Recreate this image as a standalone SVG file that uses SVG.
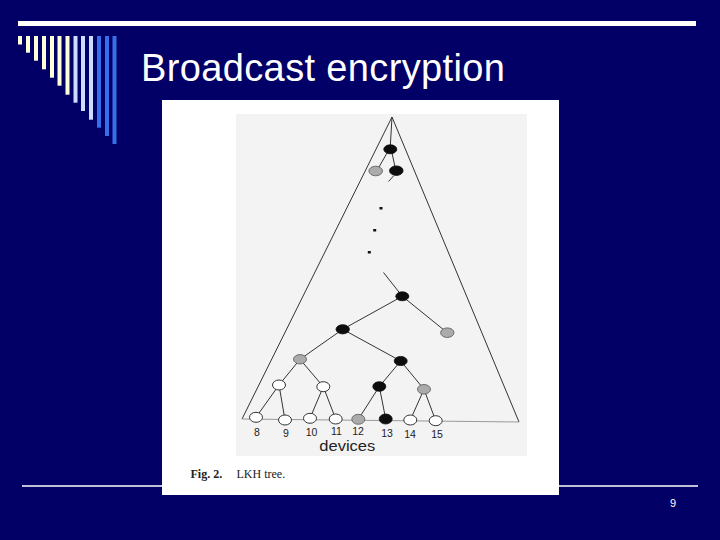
<svg xmlns="http://www.w3.org/2000/svg" width="720" height="540" viewBox="0 0 720 540">
<style>
.cream{fill:#FFFFD6}
.lblue{fill:#CCDDFF}
.blue{fill:#3570E8}
.edge{stroke:#333;stroke-width:1;fill:none}
.blk{fill:#0d0d0d;stroke:#0d0d0d;stroke-width:0.8}
.gry{fill:#ababab;stroke:#555;stroke-width:0.8}
.wht{fill:#ffffff;stroke:#333;stroke-width:1}
.dot{fill:#111}
.lbl{font-family:"Liberation Sans",Arial,sans-serif;font-size:10.5px;fill:#222;text-anchor:middle}
</style>
<rect x="0" y="0" width="720" height="540" fill="#020066"/>
<g id="header">
<rect x="18" y="21" width="678" height="5" fill="#ffffff"/>
<rect class="cream" x="18" y="36" width="4" height="8.5"/>
<rect class="cream" x="26" y="36" width="4" height="16.7"/>
<rect class="cream" x="34" y="36" width="4" height="24.7"/>
<rect class="cream" x="42" y="36" width="4" height="33.3"/>
<rect class="cream" x="50" y="36" width="4" height="41.7"/>
<rect class="cream" x="57.5" y="36" width="4" height="49.7"/>
<rect class="cream" x="65.5" y="36" width="4" height="58.7"/>
<rect class="lblue" x="73.5" y="36" width="4" height="66.7"/>
<rect class="lblue" x="81" y="36" width="4" height="75"/>
<rect class="lblue" x="89" y="36" width="4" height="83.7"/>
<rect class="blue" x="97" y="36" width="4" height="91.7"/>
<rect class="blue" x="105" y="36" width="4" height="100"/>
<rect class="blue" x="112.5" y="36" width="4" height="108"/>
</g>
<text id="title" x="141" y="81" font-family="Liberation Sans, Arial, sans-serif" font-size="38" fill="#ffffff" textLength="364" lengthAdjust="spacing">Broadcast encryption</text>
<line id="footer-line" x1="22" y1="486" x2="698" y2="486" stroke="#ffffff" stroke-width="1.5"/>
<text id="page-number" x="673" y="507" font-family="Liberation Sans, Arial, sans-serif" font-size="11" fill="#ffffff" text-anchor="middle">9</text>
<g id="figure">
<rect x="162" y="100" width="397" height="395" fill="#ffffff"/>
<rect x="236" y="114" width="291" height="342" fill="#f3f3f3"/>
<text x="190.5" y="478" font-family="Liberation Serif, Times New Roman, serif" font-size="12" fill="#222"><tspan font-weight="bold">Fig. 2.</tspan><tspan x="236.5">LKH tree.</tspan></text>
</g>
<g id="connectors">
<line class="edge" x1="392" y1="117" x2="242" y2="419"/>
<line class="edge" x1="392" y1="117" x2="519" y2="422"/>
<line x1="242" y1="419" x2="519" y2="422" stroke="#999" stroke-width="1"/>
<line class="edge" x1="392" y1="117" x2="390.3" y2="146"/>
<line class="edge" x1="387" y1="153" x2="379" y2="167"/>
<line class="edge" x1="392" y1="153" x2="395" y2="167"/>
<line class="edge" x1="393.5" y1="176" x2="388.5" y2="181.5"/>
<line class="edge" x1="383.5" y1="272.5" x2="402.3" y2="296.3"/>
<line class="edge" x1="402.3" y1="296.3" x2="342.7" y2="329.3"/>
<line class="edge" x1="402.3" y1="296.3" x2="447.3" y2="332.7"/>
<line class="edge" x1="342.7" y1="329.3" x2="300" y2="359.3"/>
<line class="edge" x1="342.7" y1="329.3" x2="400.7" y2="361"/>
<line class="edge" x1="300" y1="359.3" x2="279" y2="385"/>
<line class="edge" x1="300" y1="359.3" x2="323.3" y2="386.7"/>
<line class="edge" x1="400.7" y1="361" x2="379.3" y2="386.5"/>
<line class="edge" x1="400.7" y1="361" x2="424" y2="389.3"/>
<line class="edge" x1="279" y1="385" x2="256" y2="417.3"/>
<line class="edge" x1="279" y1="385" x2="285" y2="420"/>
<line class="edge" x1="323.3" y1="386.7" x2="310" y2="418.3"/>
<line class="edge" x1="323.3" y1="386.7" x2="335.7" y2="419"/>
<line class="edge" x1="379.3" y1="386.5" x2="358.3" y2="419.3"/>
<line class="edge" x1="379.3" y1="386.5" x2="385.7" y2="419"/>
<line class="edge" x1="424" y1="389.3" x2="410.3" y2="420"/>
<line class="edge" x1="424" y1="389.3" x2="435.7" y2="420.7"/>
</g>
<g id="n-top"><ellipse class="blk" cx="390.3" cy="149.3" rx="6.5" ry="4.5"/></g>
<g id="n-top-left"><ellipse class="gry" cx="375.7" cy="171" rx="6.8" ry="4.8"/></g>
<g id="n-top-right"><ellipse class="blk" cx="396.3" cy="170.7" rx="6.8" ry="4.8"/></g>
<g id="dots">
<rect class="dot" x="379.5" y="207" width="3" height="2.5"/>
<rect class="dot" x="373.2" y="229" width="3" height="2.5"/>
<rect class="dot" x="367.8" y="251" width="3" height="2.5"/>
</g>
<g id="n-a"><ellipse class="blk" cx="402.3" cy="296.3" rx="6.5" ry="4.5"/></g>
<g id="n-a-right"><ellipse class="gry" cx="447.3" cy="332.7" rx="6.7" ry="4.8"/></g>
<g id="n-b"><ellipse class="blk" cx="342.7" cy="329.3" rx="6.7" ry="4.6"/></g>
<g id="n-c"><ellipse class="gry" cx="300" cy="359.3" rx="6.5" ry="4.7"/></g>
<g id="n-d"><ellipse class="blk" cx="400.7" cy="361" rx="6.5" ry="4.6"/></g>
<g id="n-e"><ellipse class="wht" cx="279" cy="385" rx="6.5" ry="5"/></g>
<g id="n-f"><ellipse class="wht" cx="323.3" cy="386.7" rx="6.5" ry="5"/></g>
<g id="n-g"><ellipse class="blk" cx="379.3" cy="386.5" rx="6.5" ry="4.8"/></g>
<g id="n-h"><ellipse class="gry" cx="424" cy="389.3" rx="6.5" ry="4.8"/></g>
<g id="leaf-8"><ellipse class="wht" cx="256" cy="417.3" rx="6.5" ry="5"/><text class="lbl" x="257" y="435.5">8</text></g>
<g id="leaf-9"><ellipse class="wht" cx="285" cy="420" rx="6.5" ry="5"/><text class="lbl" x="286" y="437">9</text></g>
<g id="leaf-10"><ellipse class="wht" cx="310" cy="418.3" rx="6.5" ry="5"/><text class="lbl" x="311.5" y="435.5">10</text></g>
<g id="leaf-11"><ellipse class="wht" cx="335.7" cy="419" rx="6.5" ry="5"/><text class="lbl" x="336.5" y="435.3">11</text></g>
<g id="leaf-12"><ellipse class="gry" cx="358.3" cy="419.3" rx="6.5" ry="5"/><text class="lbl" x="358" y="435.3">12</text></g>
<g id="leaf-13"><ellipse class="blk" cx="385.7" cy="419" rx="6.5" ry="5"/><text class="lbl" x="387" y="437">13</text></g>
<g id="leaf-14"><ellipse class="wht" cx="410.3" cy="420" rx="6.5" ry="5"/><text class="lbl" x="410" y="437.5">14</text></g>
<g id="leaf-15"><ellipse class="wht" cx="435.7" cy="420.7" rx="6.5" ry="5"/><text class="lbl" x="437" y="438">15</text></g>
<text id="devices" x="347.3" y="451" font-family="Liberation Sans, Arial, sans-serif" font-size="14" fill="#222" text-anchor="middle" textLength="56" lengthAdjust="spacingAndGlyphs">devices</text>
</svg>
